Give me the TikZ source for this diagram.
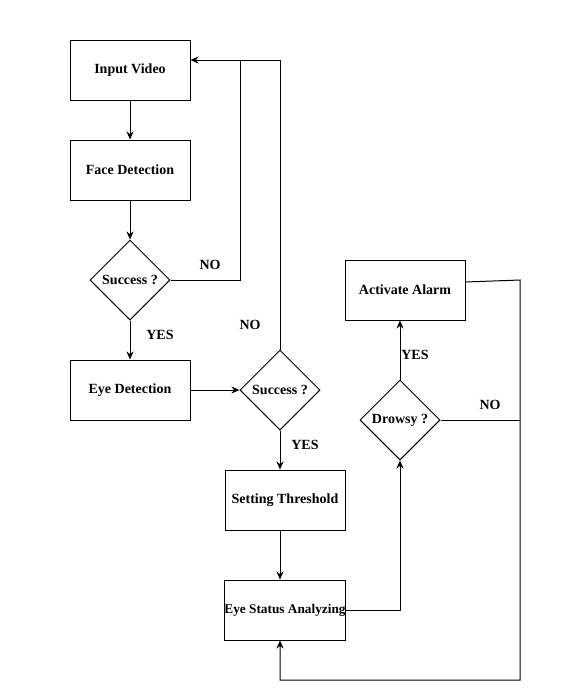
\documentclass[tikz,border=0pt]{standalone}
\usepackage{fontspec}
\setmainfont{Liberation Serif}
\usetikzlibrary{shapes.geometric,arrows.meta}
\begin{document}
\begin{tikzpicture}[x=1pt,y=-1pt,
  font=\fontsize{14}{15}\selectfont\bfseries,
  box/.style={draw,line width=1pt,rectangle,minimum width=120pt,minimum height=60pt,inner sep=0pt},
  dia/.style={draw,line width=1pt,diamond,aspect=1,minimum width=80pt,minimum height=80pt,inner sep=0pt},
  conn/.style={line width=1pt},
  arr/.style={line width=1pt,-{Stealth[length=8pt,width=7pt]}},
  lbl/.style={inner sep=0pt}]
\fill[white] (0,0) rectangle (570,691);
\useasboundingbox (0,0) rectangle (570,691);

\node[box] (iv) at (130,70) {Input Video};
\node[box] (fd) at (130,170) {Face Detection};
\node[dia] (s1) at (130,280) {Success ?};
\node[box] (ed) at (130,390) {Eye Detection};
\node[dia] (s2) at (280,390) {Success ?};
\node[box] (st) at (285,500) {Setting Threshold};
\node[box,font=\fontsize{13.3}{14}\selectfont\bfseries] (esa) at (285,610) {Eye Status Analyzing};
\node[dia] (dr) at (400,420) {Drowsy ?};
\node[box] (al) at (405,290) {Activate Alarm};

\coordinate (j) at (240,60);
\coordinate (c1) at (520,280);
\coordinate (c2) at (520,680);

\draw[arr] (iv.south) -- (fd.north);
\draw[arr] (fd.south) -- (s1.north);
\draw[arr] (s1.south) -- (ed.north);
\draw[arr] (ed.east) -- (s2.west);
\draw[arr] (s2.south) -- (s2.south |- st.north);
\draw[arr] ([xshift=-5pt]st.south) -- ([xshift=-5pt]esa.north);
\draw[arr] (esa.east) -| (dr.south);
\draw[arr] (dr.north) -- (dr.north |- al.south);
\draw[arr] (s2.north) |- ([yshift=10pt]iv.east);
\draw[conn] (s1.east) -| (j);
\draw[conn] (dr.east) -- (dr.east -| c1);
\draw[arr] ([yshift=8pt]al.east) -- (c1) -- (c2) -| ([xshift=-5pt]esa.south);

\node[lbl] (n1) at (210,265) {NO};
\node[lbl] (y1) at (160,335) {YES};
\node[lbl] (n2) at (250,325) {NO};
\node[lbl] (y2) at (305,445) {YES};
\node[lbl] (y3) at (415,355) {YES};
\node[lbl] (n3) at (490,405) {NO};
\end{tikzpicture}
\end{document}
